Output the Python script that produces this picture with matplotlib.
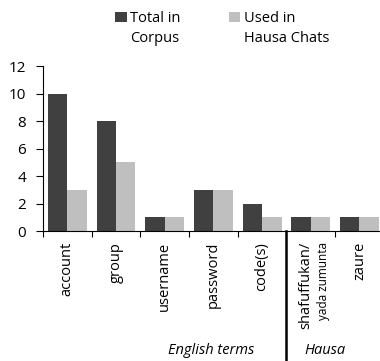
import numpy as np
import matplotlib.pyplot as plt

plt.rcParams['font.family'] = ['Open Sans', 'DejaVu Sans']

terms = ['account', 'group', 'username', 'password', 'code(s)', 'shafuffukan/', 'zaure']
total_in_corpus = [10, 8, 1, 3, 2, 1, 1]
used_in_chats = [3, 5, 1, 3, 1, 1, 1]
series_labels = [('Total in', 'Corpus'), ('Used in', 'Hausa Chats')]

dark = '#404040'
light = '#bfbfbf'
fs = 10.5

fig = plt.figure(figsize=(3.8, 3.61), dpi=100)
W, H = 380, 361
ax = fig.add_axes([0.113, 0.36, 0.897, 0.457])

x = np.arange(len(terms))
w = 0.4
ax.bar(x - w / 2, total_in_corpus, w, color=dark, label=series_labels[0][0])
ax.bar(x + w / 2, used_in_chats, w, color=light, label=series_labels[1][0])

ax.set_xlim(-0.5, len(terms) - 0.5)
ax.set_ylim(0, 12)
ax.set_yticks(range(0, 13, 2))
for s in ['top', 'right']:
    ax.spines[s].set_visible(False)
ax.tick_params(axis='y', length=5, labelsize=11, pad=7)

# category boundaries as ticks, labels drawn separately
ax.set_xticks(np.arange(len(terms) + 1) - 0.5)
ax.set_xticklabels([])
ax.tick_params(axis='x', length=4, direction='out')

trans = ax.get_xaxis_transform()
for i, t in enumerate(terms):
    if i == 5:
        ax.text(i - 0.1, -0.065, t, rotation=90, ha='center', va='top',
                fontsize=fs, transform=trans)
        ax.text(i + 0.27, -0.065, 'yada zumunta', rotation=90, ha='center', va='top',
                fontsize=8.5, transform=trans)
    else:
        ax.text(i, -0.065, t, rotation=90, ha='center', va='top',
                fontsize=fs, transform=trans)

# separator between English and Hausa terms
ax.plot([4.5, 4.5], [0, -0.8], color='black', lw=1.8, transform=trans, clip_on=False)

ax.text(2.95, -0.725, 'English terms', style='italic', ha='center', va='center',
        fontsize=fs, transform=trans)
ax.text(5.3, -0.725, 'Hausa', style='italic', ha='center', va='center',
        fontsize=fs, transform=trans)

# legend: first line in the legend, second line underneath the label
leg = fig.legend(loc='upper left', bbox_to_anchor=(115 / W, 1 - 11 / H), ncol=2,
                 frameon=False, fontsize=fs, handlelength=0.8, handleheight=0.75,
                 handletextpad=0.25, columnspacing=3.3, borderpad=0, borderaxespad=0)
fig.canvas.draw()
for txt, (_, second) in zip(leg.get_texts(), series_labels):
    bb = txt.get_window_extent()
    fig.text(bb.x0 / W, (bb.y0 - 5) / H, second, fontsize=fs, ha='left', va='top')

fig.savefig('out.png', dpi=100)
